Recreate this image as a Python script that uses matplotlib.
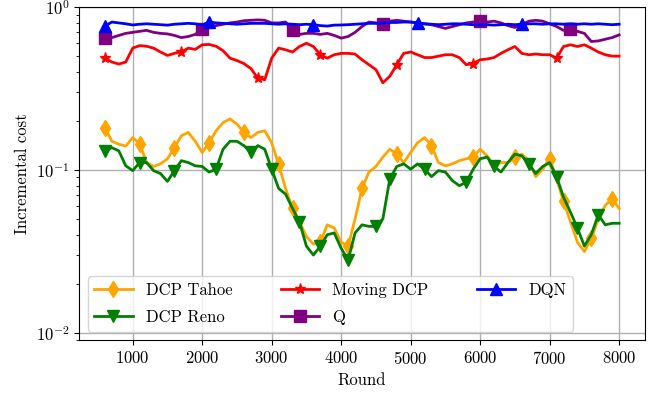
import numpy as np
import matplotlib
matplotlib.use("Agg")
import matplotlib.pyplot as plt

plt.rcParams.update({
    "font.family": "serif",
    "font.serif": ["cmr10", "DejaVu Serif"],
    "mathtext.fontset": "cm",
    "axes.formatter.use_mathtext": True,
    "font.size": 12,
    "axes.unicode_minus": False,
})

rounds = np.arange(600, 8001, 100)

dcp_tahoe = [
    0.182, 0.150, 0.144, 0.140, 0.158, 0.145, 0.111, 0.105, 0.109, 0.117,
    0.137, 0.162, 0.170, 0.150, 0.128, 0.147, 0.174, 0.195, 0.206, 0.191,
    0.170, 0.158, 0.170, 0.174, 0.147, 0.108, 0.077, 0.058, 0.048, 0.039,
    0.035, 0.036, 0.046, 0.044, 0.036, 0.034, 0.050, 0.077, 0.097, 0.105,
    0.120, 0.134, 0.125, 0.111, 0.128, 0.147, 0.158, 0.141, 0.111, 0.106,
    0.109, 0.114, 0.117, 0.120, 0.134, 0.122, 0.106, 0.111, 0.111, 0.120,
    0.125, 0.114, 0.091, 0.101, 0.117, 0.088, 0.064, 0.048, 0.036, 0.0315,
    0.038, 0.050, 0.0605, 0.0666, 0.058,
]

dcp_reno = [
    0.131, 0.137, 0.131, 0.106, 0.099, 0.111, 0.111, 0.099, 0.095, 0.085,
    0.099, 0.114, 0.111, 0.106, 0.105, 0.097, 0.101, 0.134, 0.150, 0.150,
    0.141, 0.128, 0.141, 0.134, 0.101, 0.077, 0.071, 0.058, 0.048, 0.034,
    0.030, 0.034, 0.040, 0.041, 0.033, 0.028, 0.041, 0.046, 0.045, 0.045,
    0.050, 0.088, 0.105, 0.109, 0.101, 0.109, 0.101, 0.091, 0.099, 0.097,
    0.086, 0.080, 0.084, 0.101, 0.117, 0.120, 0.105, 0.097, 0.111, 0.125,
    0.122, 0.109, 0.095, 0.105, 0.111, 0.091, 0.068, 0.055, 0.044, 0.034,
    0.040, 0.053, 0.046, 0.047, 0.047,
]

moving_dcp = [
    0.486, 0.460, 0.447, 0.460, 0.560, 0.580, 0.575, 0.560, 0.530, 0.505,
    0.520, 0.530, 0.560, 0.550, 0.587, 0.590, 0.575, 0.540, 0.486, 0.470,
    0.450, 0.420, 0.367, 0.358, 0.486, 0.560, 0.547, 0.530, 0.573, 0.600,
    0.573, 0.510, 0.486, 0.510, 0.520, 0.520, 0.515, 0.475, 0.443, 0.413,
    0.343, 0.376, 0.443, 0.520, 0.530, 0.510, 0.490, 0.490, 0.500, 0.510,
    0.510, 0.490, 0.443, 0.450, 0.475, 0.480, 0.490, 0.520, 0.547, 0.573,
    0.520, 0.510, 0.515, 0.510, 0.510, 0.486, 0.573, 0.587, 0.573, 0.587,
    0.560, 0.530, 0.510, 0.500, 0.500,
]

q_learning = [
    0.645, 0.650, 0.670, 0.690, 0.700, 0.710, 0.720, 0.700, 0.690, 0.685,
    0.670, 0.650, 0.660, 0.680, 0.730, 0.760, 0.770, 0.785, 0.800, 0.810,
    0.825, 0.830, 0.835, 0.830, 0.800, 0.800, 0.810, 0.720, 0.680, 0.690,
    0.690, 0.680, 0.690, 0.670, 0.645, 0.660, 0.700, 0.760, 0.810, 0.800,
    0.790, 0.820, 0.830, 0.820, 0.810, 0.800, 0.790, 0.780, 0.760, 0.740,
    0.760, 0.780, 0.800, 0.810, 0.820, 0.810, 0.820, 0.800, 0.770, 0.750,
    0.780, 0.820, 0.830, 0.820, 0.790, 0.760, 0.720, 0.730, 0.710, 0.690,
    0.615, 0.620, 0.635, 0.650, 0.675,
]

dqn = [
    0.765, 0.810, 0.800, 0.790, 0.777, 0.785, 0.790, 0.785, 0.780, 0.775,
    0.785, 0.790, 0.795, 0.790, 0.775, 0.810, 0.800, 0.795, 0.790, 0.785,
    0.790, 0.795, 0.795, 0.795, 0.790, 0.785, 0.790, 0.785, 0.780, 0.785,
    0.780, 0.770, 0.765, 0.775, 0.777, 0.780, 0.785, 0.790, 0.795, 0.795,
    0.800, 0.805, 0.805, 0.810, 0.810, 0.800, 0.790, 0.785, 0.780, 0.785,
    0.790, 0.790, 0.785, 0.780, 0.777, 0.780, 0.775, 0.780, 0.785, 0.780,
    0.785, 0.790, 0.790, 0.785, 0.790, 0.790, 0.785, 0.790, 0.785, 0.790,
    0.785, 0.790, 0.785, 0.780, 0.785,
]

series = [
    ("DCP Tahoe", dcp_tahoe, "orange", "d", 0.083),
    ("DCP Reno", dcp_reno, "green", "v", 0.077),
    ("Moving DCP", moving_dcp, "red", "*", 0.14),
    ("Q", q_learning, "purple", "s", 0.149),
    ("DQN", dqn, "blue", "^", 0.16),
]

fig = plt.figure(figsize=(6.6, 3.96), dpi=100)
ax = fig.add_axes([0.12, 0.141, 0.857, 0.841])

for label, vals, color, marker, every in series:
    ax.plot(rounds, vals, color=color, marker=marker, markevery=every,
            markersize=8, linewidth=2, label=label)

ax.set_yscale("log")
ax.set_ylim(0.009, 1.0)
ax.set_xticks(np.arange(1000, 8001, 1000))
ax.grid(True, which="major", color="#b0b0b0", linewidth=1)
ax.set_xlabel("Round")
ax.set_ylabel("Incremental cost")

ax.legend(loc="lower left", ncol=3, bbox_to_anchor=(0.0, 0.0),
          handlelength=2.3, columnspacing=2.9, labelspacing=0.7,
          borderaxespad=0.5)

fig.savefig("out.png", dpi=100)
